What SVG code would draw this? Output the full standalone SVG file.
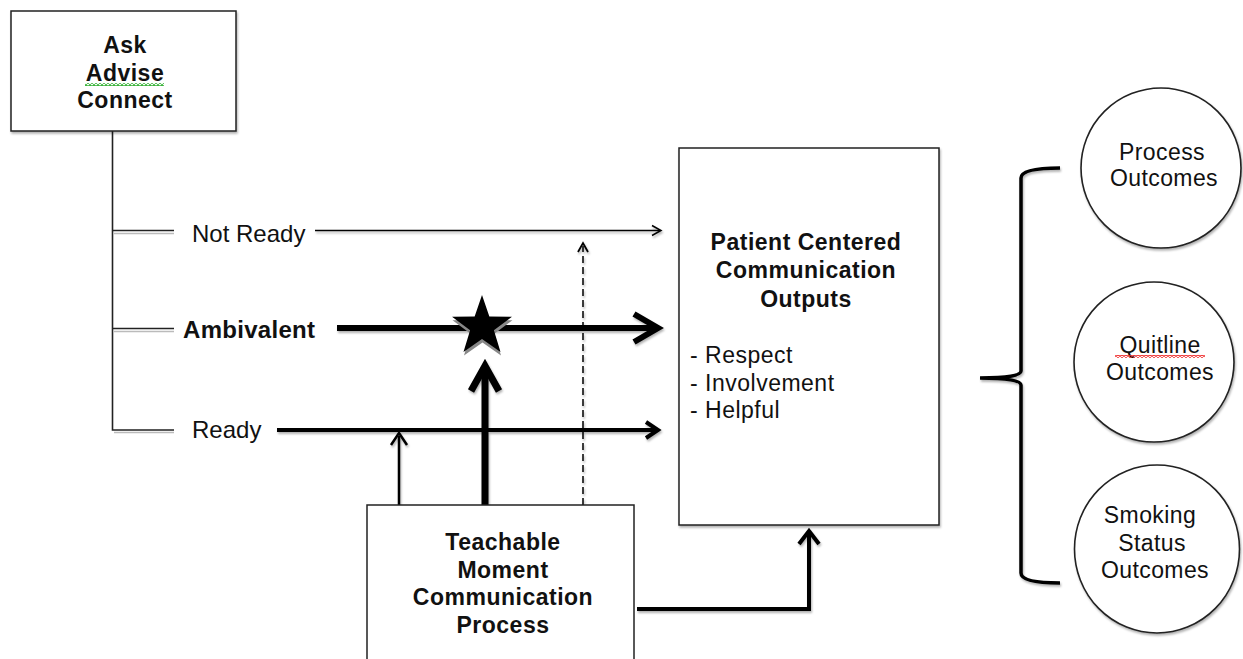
<svg xmlns="http://www.w3.org/2000/svg" width="1243" height="659" viewBox="0 0 1243 659">
  <style>
    text { font-family: "Liberation Sans", Arial, sans-serif; fill: #111; }
    .title { font-size: 23px; font-weight: bold; letter-spacing: 0.5px; text-anchor: middle; }
    .label { font-size: 24px; }
    .lbl-bold { font-size: 24px; font-weight: bold; letter-spacing: 0.3px; }
    .item { font-size: 23px; letter-spacing: 0.5px; }
    .ctext { font-size: 23px; letter-spacing: 0.4px; text-anchor: middle; }
    .box { fill: #fff; stroke: #222; stroke-width: 1.5; }
    .ring { fill: #fff; stroke: #222; stroke-width: 1.6; }
    .wire { fill: none; stroke: #000; stroke-linejoin: miter; }
    .tree { fill: none; stroke: #222; stroke-width: 1.6; }
    .tree-shade { fill: none; stroke: #bbb; stroke-width: 1.5; }
  </style>
  <defs>
    <filter id="shade" x="-10%" y="-10%" width="130%" height="130%">
      <feDropShadow dx="1" dy="2" stdDeviation="0.8" flood-color="#000" flood-opacity="0.3"/>
    </filter>
    <pattern id="wavy-green" width="4" height="3" patternUnits="userSpaceOnUse">
      <path d="M0,2.5 L2,0.5 L4,2.5" fill="none" stroke="#2a2" stroke-width="1.1"/>
    </pattern>
    <pattern id="wavy-red" width="4" height="3" patternUnits="userSpaceOnUse">
      <path d="M0,2.5 L2,0.5 L4,2.5" fill="none" stroke="#e22" stroke-width="1.1"/>
    </pattern>
  </defs>

  <rect width="1243" height="659" fill="#fff"/>

  <!-- decision tree from the first box -->
  <g id="tree">
    <path class="tree-shade" d="M114,233.5 H174 M114,331.5 H174 M114,432.5 H174"/>
    <path class="tree" d="M112.5,131 V430 H174 M112.5,230.5 H174 M112.5,328.5 H174"/>
    <text class="label" x="192" y="242">Not Ready</text>
    <text class="lbl-bold" x="183" y="338">Ambivalent</text>
    <text class="label" x="192" y="438">Ready</text>
  </g>

  <!-- connectors -->
  <g id="connectors" filter="url(#shade)">
    <g id="arrow-not-ready">
      <path class="wire" stroke-width="1.5" d="M315,230.5 H660"/>
      <path class="wire" stroke-width="1.5" d="M652,225.5 L661,230.5 L652,235.5"/>
    </g>
    <g id="arrow-dashed">
      <path class="wire" stroke-width="1.5" stroke-dasharray="7 4" d="M583,505 V246"/>
      <path class="wire" stroke-width="1.8" d="M578,252 L583,243 L588,252"/>
    </g>
    <g id="arrow-ambivalent">
      <path class="wire" stroke-width="6" d="M337,328 H654"/>
      <path class="wire" stroke-width="6" d="M634,314 L658,328 L634,342"/>
    </g>
    <g id="arrow-ready">
      <path class="wire" stroke-width="4" d="M277,430 H655"/>
      <path class="wire" stroke-width="4" d="M646,422 L658,430 L646,438"/>
    </g>
    <g id="arrow-to-ready">
      <path class="wire" stroke-width="2.5" d="M399,505 V436"/>
      <path class="wire" stroke-width="2.5" d="M391,445 L399,433 L407,445"/>
    </g>
    <g id="arrow-to-star">
      <path class="wire" stroke-width="7" d="M485,505 V370"/>
      <path class="wire" stroke-width="7" d="M471,391 L485,366 L499,391"/>
    </g>
    <g id="arrow-to-outputs">
      <path class="wire" stroke-width="4" d="M637,609 H809 V534"/>
      <path class="wire" stroke-width="4" d="M799,544 L809,531 L819,544"/>
    </g>
  </g>

  <!-- star on the ambivalent path -->
  <g id="star">
    <polygon fill="#888" transform="translate(0.5,3.5)" points="482,295 489.35,316.39 511.96,316.77 493.89,330.36 500.52,351.98 482,339 463.48,351.98 470.11,330.36 452.04,316.77 474.65,316.39"/>
    <polygon fill="#000" points="482,295 489.35,316.39 511.96,316.77 493.89,330.36 500.52,351.98 482,339 463.48,351.98 470.11,330.36 452.04,316.77 474.65,316.39"/>
  </g>

  <g id="node-ask" filter="url(#shade)">
    <rect class="box" x="11" y="11" width="225" height="120"/>
  </g>
  <g id="node-ask-text">
    <text class="title" x="125" y="53">Ask</text>
    <text class="title" x="125" y="81">Advise</text>
    <rect x="85" y="83" width="79" height="3" fill="url(#wavy-green)"/>
    <text class="title" x="125" y="108">Connect</text>
  </g>

  <g id="node-outputs">
    <rect class="box" x="679" y="148" width="260" height="377" filter="url(#shade)"/>
    <text class="title" x="806" y="250">Patient Centered</text>
    <text class="title" x="806" y="278">Communication</text>
    <text class="title" x="806" y="307">Outputs</text>
    <text class="item" x="690" y="363">- Respect</text>
    <text class="item" x="690" y="391">- Involvement</text>
    <text class="item" x="690" y="418">- Helpful</text>
  </g>

  <g id="node-teachable">
    <rect class="box" x="367" y="505" width="267" height="170"/>
    <text class="title" x="503" y="550">Teachable</text>
    <text class="title" x="503" y="578">Moment</text>
    <text class="title" x="503" y="605">Communication</text>
    <text class="title" x="503" y="633">Process</text>
  </g>

  <!-- brace grouping the outcomes -->
  <g id="brace" filter="url(#shade)">
    <path fill="none" stroke="#000" stroke-width="3.5" d="M1060,168 Q1021,168 1021,178 V371 Q1021,378 980,378 Q1021,378 1021,385 V573 Q1021,583 1060,583"/>
  </g>

  <g id="node-process-outcomes">
    <circle class="ring" cx="1161" cy="168" r="80" filter="url(#shade)"/>
    <text class="ctext" x="1162" y="160">Process</text>
    <text class="ctext" x="1164" y="186">Outcomes</text>
  </g>

  <g id="node-quitline-outcomes">
    <circle class="ring" cx="1154" cy="362" r="80" filter="url(#shade)"/>
    <text class="ctext" x="1160" y="353">Quitline</text>
    <rect x="1115" y="355" width="90" height="3" fill="url(#wavy-red)"/>
    <text class="ctext" x="1160" y="380">Outcomes</text>
  </g>

  <g id="node-smoking-outcomes">
    <ellipse class="ring" cx="1157" cy="549" rx="82.5" ry="84" filter="url(#shade)"/>
    <text class="ctext" x="1150" y="523">Smoking</text>
    <text class="ctext" x="1152" y="551">Status</text>
    <text class="ctext" x="1155" y="578">Outcomes</text>
  </g>
</svg>
